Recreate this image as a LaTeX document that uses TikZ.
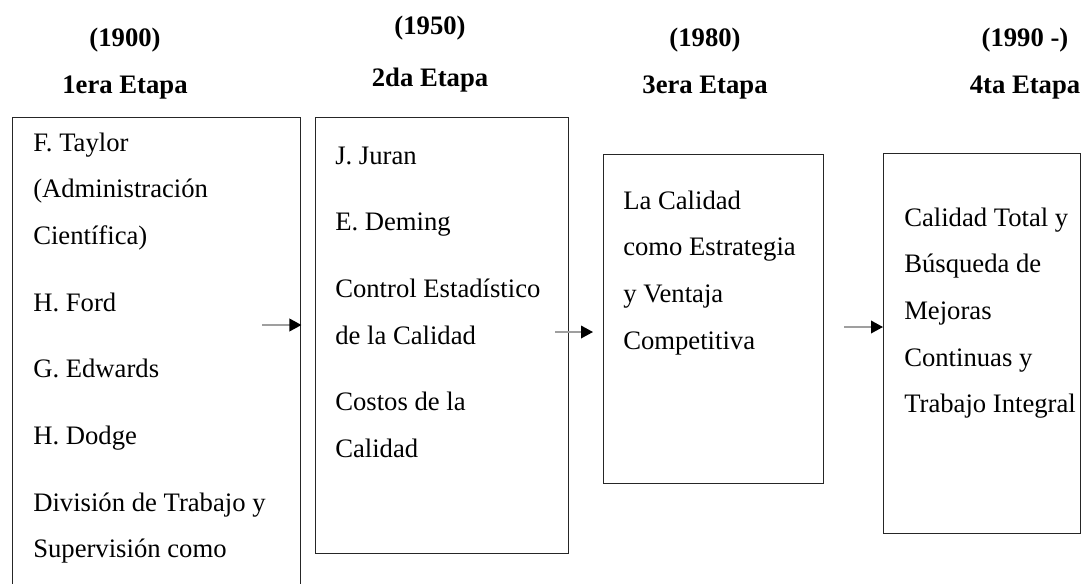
\documentclass[tikz,border=0pt]{standalone}
\usepackage{fontspec}
\setmainfont{Liberation Serif}
\usetikzlibrary{arrows.meta}

\begin{document}
\begin{tikzpicture}[
    x=0.75pt, y=-0.75pt,
    etapa/.style={rectangle, draw=black!85, line width=1.1pt, anchor=north west, inner sep=0pt},
    texto/.style={anchor=north west, align=left, inner sep=0pt, font=\fontsize{20}{35}\selectfont},
    titulo/.style={font=\fontsize{20}{24}\selectfont\bfseries, inner sep=0pt},
    flecha/.style={-{Triangle[length=9pt, width=9.5pt, black]}, draw=gray!75, line width=1.1pt}
]
\useasboundingbox (0,0) rectangle (1089,583);
\clip (0,0) rectangle (1089,583);

% Titulos de cada etapa
\foreach \i/\x/\ya/\yb/\anio/\nombre in {1/125/40/88/(1900)/1era Etapa,
                                          2/430/28/80/(1950)/2da Etapa,
                                          3/705/40/88/(1980)/3era Etapa,
                                          4/1025/40/88/(1990 -)/4ta Etapa} {
    \node[titulo] (anio\i) at (\x,\ya) {\anio};
    \node[titulo] (nom\i) at (\x,\yb) {\nombre};
}

% Cajas de las etapas
\node[etapa, minimum width=216pt, minimum height=362pt] (e1) at (12,117) {};
\node[etapa, minimum width=189.75pt, minimum height=327pt] (e2) at (315,117) {};
\node[etapa, minimum width=165pt, minimum height=246.75pt] (e3) at (603,154) {};
\node[etapa, minimum width=147.75pt, minimum height=285pt] (e4) at (883,153) {};

% Contenido de las cajas (tope de la primera linea = linea base - 20px)
\node[texto] (t1) at (33,131) {\rule{0pt}{15pt}F. Taylor\\(Administración\\Científica)\\[15pt]H. Ford\\[15pt]G. Edwards\\[15pt]H. Dodge\\[15pt]División de Trabajo y\\Supervisión como};
\node[texto] (t2) at (335,144) {\rule{0pt}{15pt}J. Juran\\[15pt]E. Deming\\[15pt]Control Estadístico\\de la Calidad\\[15pt]Costos de la\\Calidad};
\node[texto] (t3) at (623,189) {\rule{0pt}{15pt}La Calidad\\como Estrategia\\y Ventaja\\Competitiva};
\node[texto] (t4) at (904,206) {\rule{0pt}{15pt}Calidad Total y\\Búsqueda de\\Mejoras\\Continuas y\\Trabajo Integral};

% Flechas entre etapas
\coordinate (f1) at (262,325);
\coordinate (f2) at (555,332);
\coordinate (f2b) at (593,332);
\coordinate (f3) at (844,327);
\draw[flecha] (f1) -- (f1 -| e1.east);
\draw[flecha] (f2) -- (f2b);
\draw[flecha] (f3) -- (f3 -| e4.west);

\end{tikzpicture}
\end{document}
